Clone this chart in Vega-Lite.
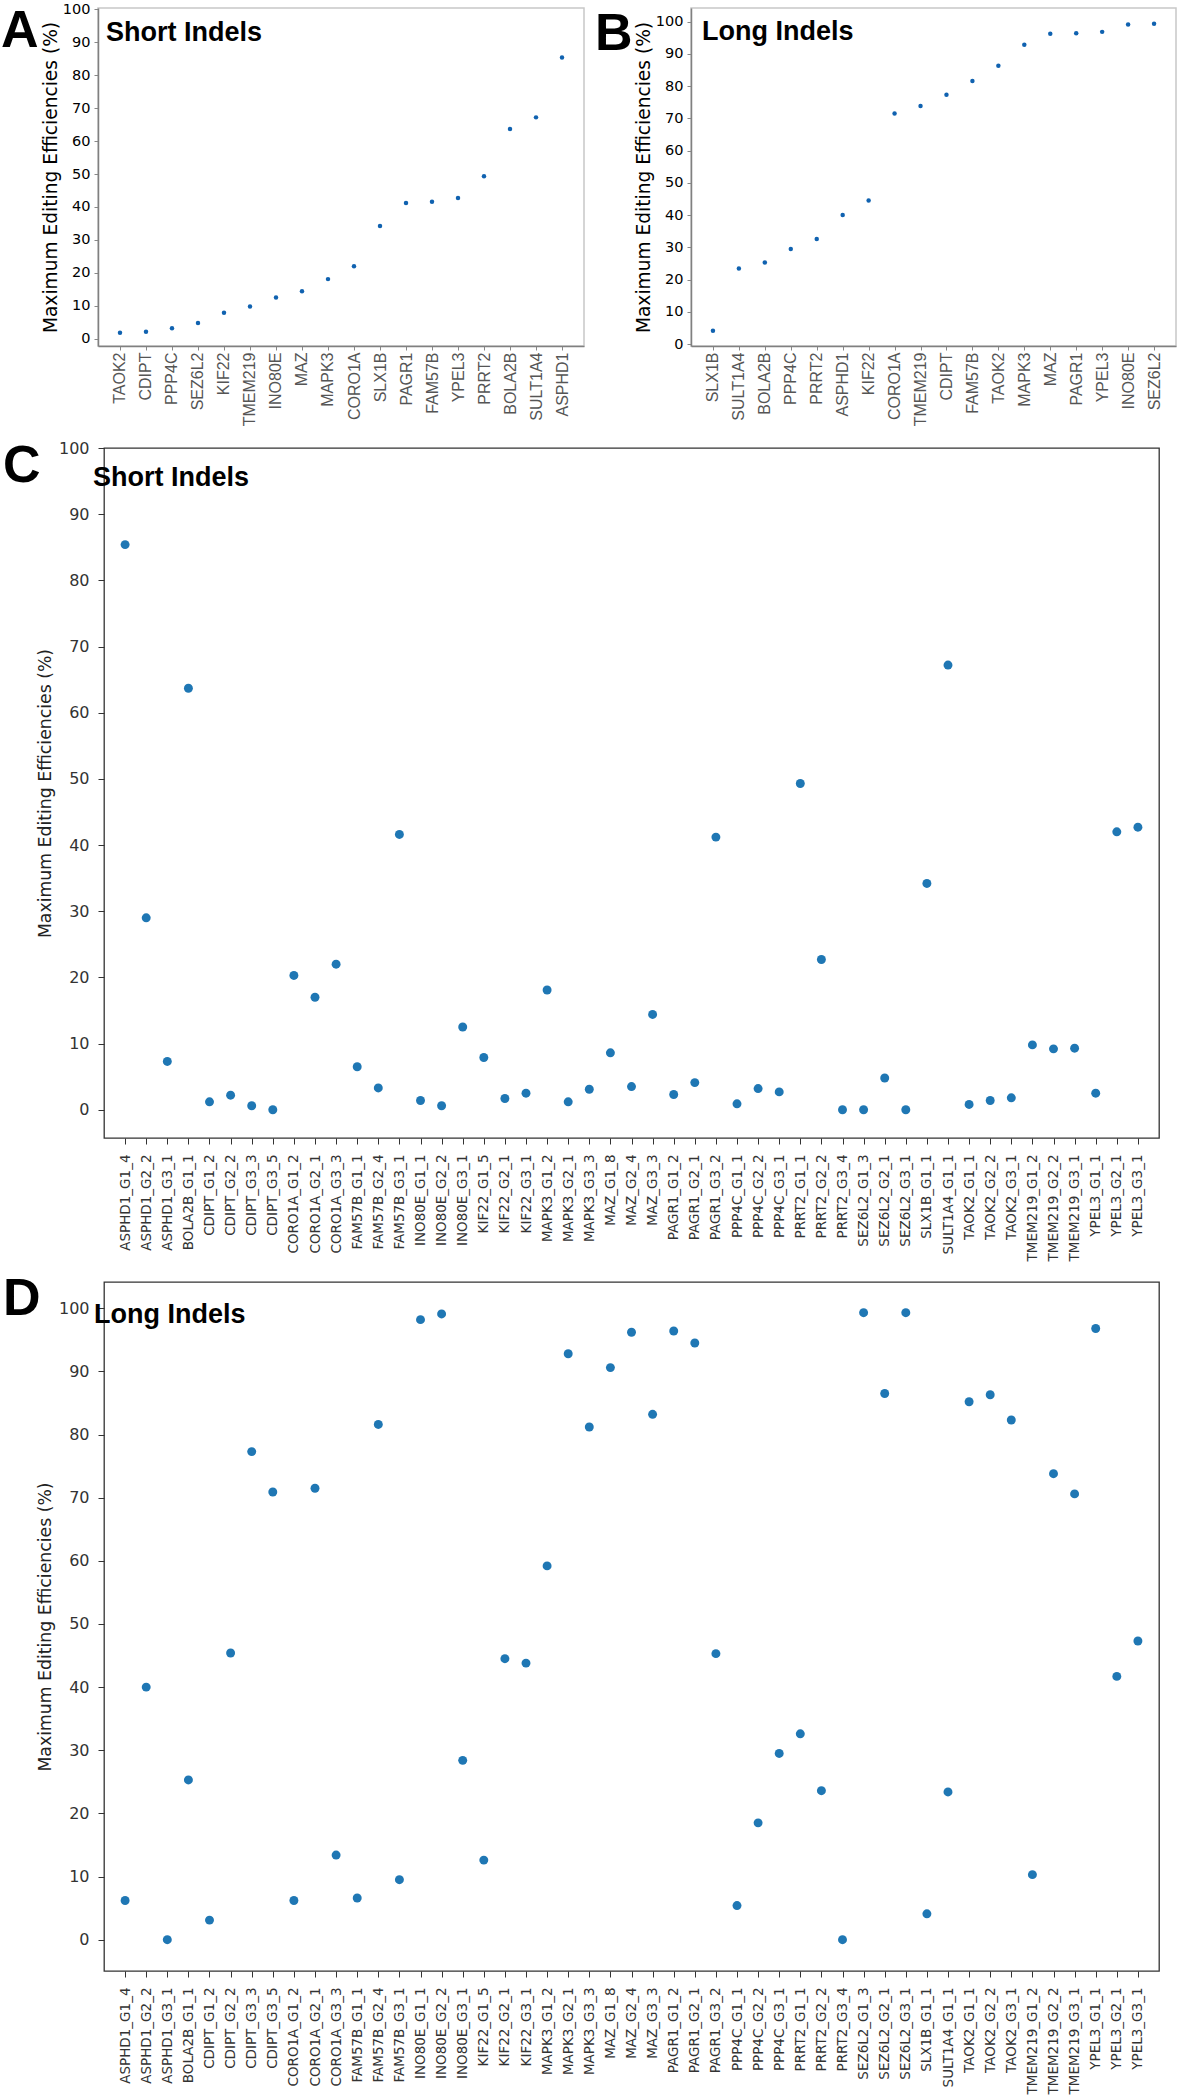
{
  "$schema": "https://vega.github.io/schema/vega-lite/v6.json",
  "background": "white",
  "padding": {"left": 0, "top": 0, "right": 0, "bottom": 0},
  "datasets": {
    "shortGene": [
      {"gene": "TAOK2", "eff": 1.8}, {"gene": "CDIPT", "eff": 2.1}, {"gene": "PPP4C", "eff": 3.2},
      {"gene": "SEZ6L2", "eff": 4.8}, {"gene": "KIF22", "eff": 7.9}, {"gene": "TMEM219", "eff": 9.8},
      {"gene": "INO80E", "eff": 12.5}, {"gene": "MAZ", "eff": 14.4}, {"gene": "MAPK3", "eff": 18.1},
      {"gene": "CORO1A", "eff": 22.0}, {"gene": "SLX1B", "eff": 34.2}, {"gene": "PAGR1", "eff": 41.2},
      {"gene": "FAM57B", "eff": 41.6}, {"gene": "YPEL3", "eff": 42.7}, {"gene": "PRRT2", "eff": 49.3},
      {"gene": "BOLA2B", "eff": 63.7}, {"gene": "SULT1A4", "eff": 67.2}, {"gene": "ASPHD1", "eff": 85.4}
    ],
    "longGene": [
      {"gene": "SLX1B", "eff": 4.1}, {"gene": "SULT1A4", "eff": 23.4}, {"gene": "BOLA2B", "eff": 25.3},
      {"gene": "PPP4C", "eff": 29.5}, {"gene": "PRRT2", "eff": 32.6}, {"gene": "ASPHD1", "eff": 40.0},
      {"gene": "KIF22", "eff": 44.5}, {"gene": "CORO1A", "eff": 71.5}, {"gene": "TMEM219", "eff": 73.8},
      {"gene": "CDIPT", "eff": 77.3}, {"gene": "FAM57B", "eff": 81.6}, {"gene": "TAOK2", "eff": 86.3},
      {"gene": "MAPK3", "eff": 92.8}, {"gene": "MAZ", "eff": 96.2}, {"gene": "PAGR1", "eff": 96.4},
      {"gene": "YPEL3", "eff": 96.8}, {"gene": "INO80E", "eff": 99.1}, {"gene": "SEZ6L2", "eff": 99.3}
    ],
    "guides": [
      {"guide": "ASPHD1_G1_4", "short": 85.4, "long": 6.2},
      {"guide": "ASPHD1_G2_2", "short": 29.0, "long": 40.0},
      {"guide": "ASPHD1_G3_1", "short": 7.3, "long": 0.0},
      {"guide": "BOLA2B_G1_1", "short": 63.7, "long": 25.3},
      {"guide": "CDIPT_G1_2", "short": 1.2, "long": 3.1},
      {"guide": "CDIPT_G2_2", "short": 2.2, "long": 45.4},
      {"guide": "CDIPT_G3_3", "short": 0.6, "long": 77.3},
      {"guide": "CDIPT_G3_5", "short": 0.0, "long": 70.9},
      {"guide": "CORO1A_G1_2", "short": 20.3, "long": 6.2},
      {"guide": "CORO1A_G2_1", "short": 17.0, "long": 71.5},
      {"guide": "CORO1A_G3_3", "short": 22.0, "long": 13.4},
      {"guide": "FAM57B_G1_1", "short": 6.5, "long": 6.6},
      {"guide": "FAM57B_G2_4", "short": 3.3, "long": 81.6},
      {"guide": "FAM57B_G3_1", "short": 41.6, "long": 9.5},
      {"guide": "INO80E_G1_1", "short": 1.4, "long": 98.2},
      {"guide": "INO80E_G2_2", "short": 0.6, "long": 99.1},
      {"guide": "INO80E_G3_1", "short": 12.5, "long": 28.4},
      {"guide": "KIF22_G1_5", "short": 7.9, "long": 12.6},
      {"guide": "KIF22_G2_1", "short": 1.7, "long": 44.5},
      {"guide": "KIF22_G3_1", "short": 2.5, "long": 43.8},
      {"guide": "MAPK3_G1_2", "short": 18.1, "long": 59.2},
      {"guide": "MAPK3_G2_1", "short": 1.2, "long": 92.8},
      {"guide": "MAPK3_G3_3", "short": 3.1, "long": 81.2},
      {"guide": "MAZ_G1_8", "short": 8.6, "long": 90.6},
      {"guide": "MAZ_G2_4", "short": 3.5, "long": 96.2},
      {"guide": "MAZ_G3_3", "short": 14.4, "long": 83.2},
      {"guide": "PAGR1_G1_2", "short": 2.3, "long": 96.4},
      {"guide": "PAGR1_G2_1", "short": 4.1, "long": 94.5},
      {"guide": "PAGR1_G3_2", "short": 41.2, "long": 45.3},
      {"guide": "PPP4C_G1_1", "short": 0.9, "long": 5.4},
      {"guide": "PPP4C_G2_2", "short": 3.2, "long": 18.5},
      {"guide": "PPP4C_G3_1", "short": 2.7, "long": 29.5},
      {"guide": "PRRT2_G1_1", "short": 49.3, "long": 32.6},
      {"guide": "PRRT2_G2_2", "short": 22.7, "long": 23.6},
      {"guide": "PRRT2_G3_4", "short": 0.0, "long": 0.0},
      {"guide": "SEZ6L2_G1_3", "short": 0.0, "long": 99.3},
      {"guide": "SEZ6L2_G2_1", "short": 4.8, "long": 86.5},
      {"guide": "SEZ6L2_G3_1", "short": 0.0, "long": 99.3},
      {"guide": "SLX1B_G1_1", "short": 34.2, "long": 4.1},
      {"guide": "SULT1A4_G1_1", "short": 67.2, "long": 23.4},
      {"guide": "TAOK2_G1_1", "short": 0.8, "long": 85.2},
      {"guide": "TAOK2_G2_2", "short": 1.4, "long": 86.3},
      {"guide": "TAOK2_G3_1", "short": 1.8, "long": 82.3},
      {"guide": "TMEM219_G1_2", "short": 9.8, "long": 10.3},
      {"guide": "TMEM219_G2_2", "short": 9.2, "long": 73.8},
      {"guide": "TMEM219_G3_1", "short": 9.3, "long": 70.6},
      {"guide": "YPEL3_G1_1", "short": 2.5, "long": 96.8},
      {"guide": "YPEL3_G2_1", "short": 42.0, "long": 41.7},
      {"guide": "YPEL3_G3_1", "short": 42.7, "long": 47.3}
    ],
    "lblShort": [{"label": "Short Indels"}],
    "lblLong": [{"label": "Long Indels"}]
  },
  "vconcat": [
    {
      "vconcat": [
        {
          "hconcat": [
            {
              "width": 486, "height": 338,
              "title": {"text": "A", "orient": "top", "anchor": "start", "frame": "group", "offset": 0, "baseline": "top", "dx": -97, "dy": 57, "font": "Liberation Sans", "fontSize": 52, "fontWeight": "bold", "color": "#000"},
              "view": {"stroke": "#c8c8c8", "strokeWidth": 1.5},
              "resolve": {"axis": {"x": "independent", "y": "independent"}},
              "layer": [
                {
                  "data": {"name": "shortGene"},
                  "mark": {"type": "circle", "size": 20, "color": "#1062b0", "opacity": 1},
                  "encoding": {
                    "x": {"field": "gene", "type": "nominal",
                      "scale": {"type": "point", "padding": 0.846, "domain": ["TAOK2","CDIPT","PPP4C","SEZ6L2","KIF22","TMEM219","INO80E","MAZ","MAPK3","CORO1A","SLX1B","PAGR1","FAM57B","YPEL3","PRRT2","BOLA2B","SULT1A4","ASPHD1"]},
                      "axis": {"title": null, "labelAngle": -90, "labelFont": "Liberation Sans", "labelFontSize": 16, "labelColor": "#555", "labelPadding": 2, "tickSize": 4, "tickColor": "#888", "domainColor": "#808080", "domainWidth": 1.5, "labelOverlap": false, "grid": false}},
                    "y": {"field": "eff", "type": "quantitative",
                      "scale": {"domain": [-2.2, 100.4], "nice": false, "zero": false},
                      "axis": {"title": "Maximum Editing Efficiencies (%)", "values": [0,10,20,30,40,50,60,70,80,90,100], "labelOverlap": false, "labelFont": "DejaVu Sans", "labelFontSize": 14.5, "labelColor": "#000", "labelPadding": 4, "tickSize": 4, "tickColor": "#888", "domainColor": "#808080", "domainWidth": 1.5, "titleFont": "DejaVu Sans", "titleFontSize": 18.6, "titleFontWeight": "normal", "titleColor": "#000", "titlePadding": 2, "grid": false}}
                  }
                },
                {
                  "data": {"name": "lblShort"},
                  "mark": {"type": "text", "font": "Liberation Sans", "fontWeight": "bold", "fontSize": 27, "align": "left", "baseline": "alphabetic", "dx": -14, "color": "#000"},
                  "encoding": {
                    "x": {"datum": "TAOK2", "type": "nominal", "axis": null},
                    "y": {"datum": 90.3, "type": "quantitative", "axis": null},
                    "text": {"field": "label"}
                  }
                }
              ]
            },
            {
              "width": 485, "height": 338,
              "title": {"text": "B", "orient": "top", "anchor": "start", "frame": "group", "offset": 0, "baseline": "top", "dx": -96, "dy": 53, "font": "Liberation Sans", "fontSize": 52, "fontWeight": "bold", "color": "#000"},
              "view": {"stroke": "#c8c8c8", "strokeWidth": 1.5},
              "resolve": {"axis": {"x": "independent", "y": "independent"}},
              "layer": [
                {
                  "data": {"name": "longGene"},
                  "mark": {"type": "circle", "size": 20, "color": "#1062b0", "opacity": 1},
                  "encoding": {
                    "x": {"field": "gene", "type": "nominal",
                      "scale": {"type": "point", "padding": 0.846, "domain": ["SLX1B","SULT1A4","BOLA2B","PPP4C","PRRT2","ASPHD1","KIF22","CORO1A","TMEM219","CDIPT","FAM57B","TAOK2","MAPK3","MAZ","PAGR1","YPEL3","INO80E","SEZ6L2"]},
                      "axis": {"title": null, "labelAngle": -90, "labelFont": "Liberation Sans", "labelFontSize": 16, "labelColor": "#555", "labelPadding": 2, "tickSize": 4, "tickColor": "#888", "domainColor": "#808080", "domainWidth": 1.5, "labelOverlap": false, "grid": false}},
                    "y": {"field": "eff", "type": "quantitative",
                      "scale": {"domain": [-0.6, 104.2], "nice": false, "zero": false},
                      "axis": {"title": "Maximum Editing Efficiencies (%)", "values": [0,10,20,30,40,50,60,70,80,90,100], "labelOverlap": false, "labelFont": "DejaVu Sans", "labelFontSize": 14.5, "labelColor": "#000", "labelPadding": 4, "tickSize": 4, "tickColor": "#888", "domainColor": "#808080", "domainWidth": 1.5, "titleFont": "DejaVu Sans", "titleFontSize": 18.6, "titleFontWeight": "normal", "titleColor": "#000", "titlePadding": 2, "grid": false}}
                  }
                },
                {
                  "data": {"name": "lblLong"},
                  "mark": {"type": "text", "font": "Liberation Sans", "fontWeight": "bold", "fontSize": 27, "align": "left", "baseline": "alphabetic", "dx": -11, "color": "#000"},
                  "encoding": {
                    "x": {"datum": "SLX1B", "type": "nominal", "axis": null},
                    "y": {"datum": 94.3, "type": "quantitative", "axis": null},
                    "text": {"field": "label"}
                  }
                }
              ]
            }
          ],
          "spacing": 9
        },
        {
          "hconcat": [
            {"width": 1, "height": 1, "data": {"values": []}, "mark": "point", "view": {"stroke": null}},
            {
              "width": 1055, "height": 690,
              "title": {"text": "C", "orient": "top", "anchor": "start", "frame": "group", "offset": 0, "baseline": "top", "dx": -101, "dy": 53, "font": "Liberation Sans", "fontSize": 52, "fontWeight": "bold", "color": "#000"},
              "view": {"stroke": "#333", "strokeWidth": 1.3},
              "resolve": {"axis": {"x": "independent", "y": "independent"}},
              "layer": [
                {
                  "data": {"name": "guides"},
                  "mark": {"type": "circle", "size": 80, "color": "#1f77b4", "opacity": 1},
                  "encoding": {
                    "x": {"field": "guide", "type": "nominal",
                      "scale": {"type": "point", "padding": 2.375, "domain": ["ASPHD1_G1_4","ASPHD1_G2_2","ASPHD1_G3_1","BOLA2B_G1_1","CDIPT_G1_2","CDIPT_G2_2","CDIPT_G3_3","CDIPT_G3_5","CORO1A_G1_2","CORO1A_G2_1","CORO1A_G3_3","FAM57B_G1_1","FAM57B_G2_4","FAM57B_G3_1","INO80E_G1_1","INO80E_G2_2","INO80E_G3_1","KIF22_G1_5","KIF22_G2_1","KIF22_G3_1","MAPK3_G1_2","MAPK3_G2_1","MAPK3_G3_3","MAZ_G1_8","MAZ_G2_4","MAZ_G3_3","PAGR1_G1_2","PAGR1_G2_1","PAGR1_G3_2","PPP4C_G1_1","PPP4C_G2_2","PPP4C_G3_1","PRRT2_G1_1","PRRT2_G2_2","PRRT2_G3_4","SEZ6L2_G1_3","SEZ6L2_G2_1","SEZ6L2_G3_1","SLX1B_G1_1","SULT1A4_G1_1","TAOK2_G1_1","TAOK2_G2_2","TAOK2_G3_1","TMEM219_G1_2","TMEM219_G2_2","TMEM219_G3_1","YPEL3_G1_1","YPEL3_G2_1","YPEL3_G3_1"]},
                      "axis": {"title": null, "labelAngle": -90, "labelFont": "DejaVu Sans", "labelFontSize": 13.5, "labelColor": "#333", "labelPadding": 10, "tickSize": 6, "tickColor": "#333", "domain": false, "labelOverlap": false, "grid": false}},
                    "y": {"field": "short", "type": "quantitative",
                      "scale": {"domain": [-4.27, 100], "nice": false, "zero": false},
                      "axis": {"title": "Maximum Editing Efficiencies (%)", "values": [0,10,20,30,40,50,60,70,80,90,100], "labelOverlap": false, "labelFont": "DejaVu Sans", "labelFontSize": 16, "labelColor": "#333", "labelPadding": 9, "tickSize": 6, "tickColor": "#333", "domain": false, "titleFont": "DejaVu Sans", "titleFontSize": 17.3, "titleFontWeight": "normal", "titleColor": "#222", "titlePadding": 4, "grid": false}}
                  }
                },
                {
                  "data": {"name": "lblShort"},
                  "mark": {"type": "text", "font": "Liberation Sans", "fontWeight": "bold", "fontSize": 27, "align": "left", "baseline": "alphabetic", "dx": -32, "color": "#000"},
                  "encoding": {
                    "x": {"datum": "ASPHD1_G1_4", "type": "nominal", "axis": null},
                    "y": {"datum": 94.3, "type": "quantitative", "axis": null},
                    "text": {"field": "label"}
                  }
                }
              ]
            }
          ],
          "spacing": 5,
          "bounds": "flush"
        }
      ],
      "spacing": 12
    },
    {
      "hconcat": [
        {"width": 1, "height": 1, "data": {"values": []}, "mark": "point", "view": {"stroke": null}},
        {
          "width": 1055, "height": 689,
          "title": {"text": "D", "orient": "top", "anchor": "start", "frame": "group", "offset": 0, "baseline": "top", "dx": -101, "dy": 44, "font": "Liberation Sans", "fontSize": 52, "fontWeight": "bold", "color": "#000"},
          "view": {"stroke": "#333", "strokeWidth": 1.3},
          "resolve": {"axis": {"x": "independent", "y": "independent"}},
          "layer": [
            {
              "data": {"name": "guides"},
              "mark": {"type": "circle", "size": 80, "color": "#1f77b4", "opacity": 1},
              "encoding": {
                "x": {"field": "guide", "type": "nominal",
                  "scale": {"type": "point", "padding": 2.375, "domain": ["ASPHD1_G1_4","ASPHD1_G2_2","ASPHD1_G3_1","BOLA2B_G1_1","CDIPT_G1_2","CDIPT_G2_2","CDIPT_G3_3","CDIPT_G3_5","CORO1A_G1_2","CORO1A_G2_1","CORO1A_G3_3","FAM57B_G1_1","FAM57B_G2_4","FAM57B_G3_1","INO80E_G1_1","INO80E_G2_2","INO80E_G3_1","KIF22_G1_5","KIF22_G2_1","KIF22_G3_1","MAPK3_G1_2","MAPK3_G2_1","MAPK3_G3_3","MAZ_G1_8","MAZ_G2_4","MAZ_G3_3","PAGR1_G1_2","PAGR1_G2_1","PAGR1_G3_2","PPP4C_G1_1","PPP4C_G2_2","PPP4C_G3_1","PRRT2_G1_1","PRRT2_G2_2","PRRT2_G3_4","SEZ6L2_G1_3","SEZ6L2_G2_1","SEZ6L2_G3_1","SLX1B_G1_1","SULT1A4_G1_1","TAOK2_G1_1","TAOK2_G2_2","TAOK2_G3_1","TMEM219_G1_2","TMEM219_G2_2","TMEM219_G3_1","YPEL3_G1_1","YPEL3_G2_1","YPEL3_G3_1"]},
                  "axis": {"title": null, "labelAngle": -90, "labelFont": "DejaVu Sans", "labelFontSize": 13.5, "labelColor": "#333", "labelPadding": 10, "tickSize": 6, "tickColor": "#333", "domain": false, "labelOverlap": false, "grid": false}},
                "y": {"field": "long", "type": "quantitative",
                  "scale": {"domain": [-4.96, 104.16], "nice": false, "zero": false},
                  "axis": {"title": "Maximum Editing Efficiencies (%)", "values": [0,10,20,30,40,50,60,70,80,90,100], "labelOverlap": false, "labelFont": "DejaVu Sans", "labelFontSize": 16, "labelColor": "#333", "labelPadding": 9, "tickSize": 6, "tickColor": "#333", "domain": false, "titleFont": "DejaVu Sans", "titleFontSize": 17.3, "titleFontWeight": "normal", "titleColor": "#222", "titlePadding": 4, "grid": false}}
              }
            },
            {
              "data": {"name": "lblLong"},
              "mark": {"type": "text", "font": "Liberation Sans", "fontWeight": "bold", "fontSize": 27, "align": "left", "baseline": "alphabetic", "dx": -31, "color": "#000"},
              "encoding": {
                "x": {"datum": "ASPHD1_G1_4", "type": "nominal", "axis": null},
                "y": {"datum": 97.7, "type": "quantitative", "axis": null},
                "text": {"field": "label"}
              }
            }
          ]
        }
      ],
      "spacing": 5,
      "bounds": "flush"
    }
  ],
  "spacing": 10
}
